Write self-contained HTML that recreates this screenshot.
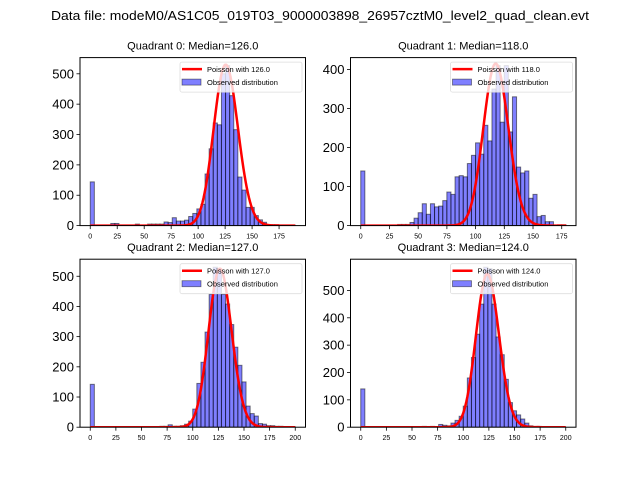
<!DOCTYPE html>
<html><head><meta charset="utf-8"><style>
body{margin:0;background:#fff}
svg{display:block;font-family:"Liberation Sans","DejaVu Sans",sans-serif}
</style></head><body>
<svg id="fig" width="640" height="480" viewBox="0 0 640 480">
<rect width="640" height="480" fill="#fff"/>
<text x="320" y="20" text-anchor="middle" font-size="13" textLength="538" lengthAdjust="spacingAndGlyphs">Data file: modeM0/AS1C05_019T03_9000003898_26957cztM0_level2_quad_clean.evt</text>
</svg>
<script>
const medians = [126.0, 118.0, 127.0, 124.0];
const rangeMax = [190, 178.5, 200, 200];
const counts0 = [144,0,0,0,0,7,7,0,0,0,0,5,0,0,5,5,5,5,12,10,26,15,15,18,30,40,55,70,170,253,338,332,500,527,428,316,160,117,60,60,33,19,11,3,3,3,2,1,1,1];
const counts1 = [140,0,0,0,0,0,0,0,0,3,3,3,8,19,33,56,29,56,48,50,64,86,80,125,128,125,159,180,212,183,257,217,350,410,265,410,240,330,150,135,140,70,80,23,26,10,10,0,2,2];
const counts2 = [142,0,0,0,0,0,0,0,0,0,0,0,0,0,0,0,0,3,3,8,3,3,5,10,20,60,145,215,315,440,530,520,440,408,340,265,205,150,70,45,37,12,10,5,5,3,3,1,1,1];
const counts3 = [140,0,0,0,0,0,0,0,0,0,0,0,0,0,0,3,0,3,0,10,7,5,15,25,40,77,180,255,340,450,585,580,450,330,265,175,90,60,45,30,15,5,0,3,1,0,0,0,0,0];
const allCounts = [counts0, counts1, counts2, counts3];
const poissonPeak = [530, 415, 525, 560];
const xTicks0 = [0,25,50,75,100,125,150,175];
const xTicks2 = [0,25,50,75,100,125,150,175,200];
const yTicks0 = [0,100,200,300,400,500];
const yTicks1 = [0,100,200,300,400];
const allXTicks = [xTicks0, xTicks0, xTicks2, xTicks2];
const allYTicks = [yTicks0, yTicks1, yTicks0, yTicks0];

const NS = "http://www.w3.org/2000/svg";
const svg = document.getElementById('fig');
function mk(tag, attrs, parent){const e=document.createElementNS(NS,tag);for(const k in attrs)e.setAttribute(k,attrs[k]);(parent||svg).appendChild(e);return e;}
function lgam(z){const c=[76.18009172947146,-86.50532032941677,24.01409824083091,-1.231739572450155,0.1208650973866179e-2,-0.5395239384953e-5];let x=z,y=z,t=x+5.5;t-=(x+0.5)*Math.log(t);let s=1.000000000190015;for(let j=0;j<6;j++)s+=c[j]/++y;return -t+Math.log(2.5066282746310005*s/x);}

const boxes = [[80,57.6],[350.5,57.6],[80,259.2],[350.5,259.2]];
const W = 225.5, H = 168;
for (let q=0;q<4;q++){
  const [L,T]=boxes[q];
  const counts=allCounts[q], R=rangeMax[q], nb=counts.length, bw=R/nb;
  let maxC=Math.max(...counts);
  const yMax=maxC*1.05;
  const x0=-0.05*R, x1=1.05*R;
  const xs=v=>L+(v-x0)/(x1-x0)*W;
  const ys=v=>T+H-v/yMax*H;
  const g=mk('g',{});
  
  
  const cp=mk('clipPath',{id:'cp'+q},g);
  mk('rect',{x:L,y:T,width:W,height:H},cp);
  const bars=mk('g',{'clip-path':'url(#cp'+q+')'},g);
  counts.forEach((c,i)=>{
    if(c<=0)return;
    const r=mk('rect',{x:xs(i*bw),y:ys(c),width:xs((i+1)*bw)-xs(i*bw),height:ys(0)-ys(c),fill:'rgba(0,0,255,0.5)',stroke:'rgba(0,0,0,0.5)','stroke-width':1},bars);
    
    
  });
  // poisson curve
  const mu=medians[q];
  const mode=Math.floor(mu);
  const lpm=mode*Math.log(mu)-mu-lgam(mode+1);
  let d='';
  for(let k=0;k<=Math.round(R);k++){
    const lp=k*Math.log(mu)-mu-lgam(k+1);
    const v=poissonPeak[q]*Math.exp(lp-lpm);
    d+=(k?'L':'M')+xs(k).toFixed(2)+' '+ys(v).toFixed(2);
  }
  const curve=mk('path',{d:d,fill:'none',stroke:'#ff0000','stroke-width':2.5,'stroke-linejoin':'round'},bars);
  
  
  // frame
  const fr=mk('rect',{x:L,y:T,width:W,height:H,fill:'none',stroke:'#000','stroke-width':1},g);
  
  
  // x ticks
  allXTicks[q].forEach(t=>{
    const x=xs(t);
    mk('line',{x1:x,x2:x,y1:T+H,y2:T+H+3.5,stroke:'#000','stroke-width':0.8},g);
    const tx=mk('text',{x:x,y:T+H+13,'font-size':7,'text-anchor':'middle'},g);
    tx.textContent=t;
    
    
  });
  allYTicks[q].forEach(t=>{
    const y=ys(t);
    mk('line',{x1:L-3.5,x2:L,y1:y,y2:y,stroke:'#000','stroke-width':0.8},g);
    const tx=mk('text',{x:L-6,y:y+4.5,'font-size':13,'text-anchor':'end'},g);
    tx.textContent=t;
    
    
  });
  const ti=mk('text',{x:L+W/2,y:T-8,'font-size':11,'text-anchor':'middle'},g);
  ti.textContent='Quadrant '+q+': Median='+mu.toFixed(1);
  
  
  // legend
  const lg=mk('g',{},g);
  
  
  const lx=L+W-125.5, ly=T+4.5;
  mk('rect',{x:lx,y:ly,width:122,height:30,rx:2,fill:'rgba(255,255,255,0.8)',stroke:'#ddd','stroke-width':0.8},lg);
  mk('line',{x1:lx+2,x2:lx+22,y1:ly+7,y2:ly+7,stroke:'#ff0000','stroke-width':2.5},lg);
  const t1=mk('text',{x:lx+27,y:ly+10,'font-size':7.5},lg);
  t1.textContent='Poisson with '+mu.toFixed(1);
  
  
  mk('rect',{x:lx+2,y:ly+17,width:19,height:6,fill:'rgba(0,0,255,0.5)',stroke:'rgba(0,0,0,0.5)','stroke-width':0.8},lg);
  const t2=mk('text',{x:lx+27,y:ly+23,'font-size':7.5},lg);
  t2.textContent='Observed distribution';
  
  
}
</script>
</body></html>
